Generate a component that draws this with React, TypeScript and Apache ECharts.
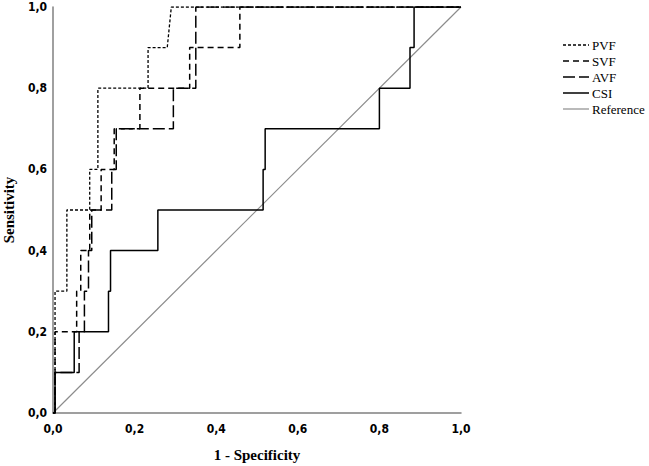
import React, { useEffect, useRef } from "react";
import * as echarts from "echarts";

const tickValues = [0, 0.2, 0.4, 0.6, 0.8, 1.0];
const seriesNames = ["PVF", "SVF", "AVF", "CSI", "Reference"];

const pvf: number[][] = [
  [0, 0], [0.005, 0], [0.005, 0.3], [0.034, 0.3], [0.034, 0.5], [0.09, 0.5], [0.09, 0.6],
  [0.11, 0.6], [0.11, 0.8], [0.233, 0.8], [0.233, 0.9], [0.28, 0.9], [0.29, 1.0], [1, 1],
];
const svf: number[][] = [
  [0, 0], [0.005, 0], [0.005, 0.2], [0.058, 0.2], [0.058, 0.3], [0.068, 0.3], [0.068, 0.4],
  [0.09, 0.4], [0.09, 0.5], [0.118, 0.5], [0.118, 0.6], [0.15, 0.6], [0.15, 0.7],
  [0.213, 0.7], [0.213, 0.8], [0.335, 0.8], [0.335, 0.9], [0.458, 0.9], [0.458, 1.0], [1, 1],
];
const avf: number[][] = [
  [0, 0], [0.005, 0], [0.005, 0.1], [0.064, 0.1], [0.064, 0.2], [0.077, 0.2], [0.077, 0.3],
  [0.087, 0.3], [0.087, 0.4], [0.095, 0.4], [0.095, 0.5], [0.144, 0.5], [0.144, 0.6],
  [0.155, 0.6], [0.155, 0.7], [0.295, 0.7], [0.295, 0.8], [0.35, 0.8], [0.35, 1.0], [1, 1],
];
const csi: number[][] = [
  [0, 0], [0.005, 0], [0.005, 0.1], [0.052, 0.1], [0.052, 0.2], [0.136, 0.2], [0.136, 0.3],
  [0.141, 0.3], [0.141, 0.4], [0.257, 0.4], [0.257, 0.5], [0.515, 0.5], [0.515, 0.6],
  [0.52, 0.6], [0.52, 0.7], [0.8, 0.7], [0.8, 0.8], [0.875, 0.8], [0.875, 0.9],
  [0.885, 0.9], [0.885, 1.0], [1, 1],
];
const reference: number[][] = [[0, 0], [1, 1]];

const fmt = (v: number) => v.toFixed(1).replace(".", ",");

export default function App() {
  const ref = useRef<HTMLDivElement>(null);
  useEffect(() => {
    if (!ref.current) return;
    const chart = echarts.init(ref.current, undefined, { renderer: "svg" });
    const labelFont = {
      fontFamily: "'Liberation Sans Narrow', 'DejaVu Sans Condensed', 'Liberation Sans', sans-serif",
      fontWeight: "bold" as const,
      fontSize: 12,
      color: "#000",
    };
    const styles: { dash: any; width: number; color: string }[] = [
      { dash: [3, 2], width: 1.3, color: "#000" },
      { dash: [6, 4], width: 1.5, color: "#000" },
      { dash: [12, 4], width: 1.5, color: "#000" },
      { dash: "solid", width: 1.5, color: "#000" },
      { dash: "solid", width: 1.2, color: "#8c8c8c" },
    ];
    const datasets = [pvf, svf, avf, csi, reference];
    const series = seriesNames.map((name, i) => ({
      name,
      type: "line",
      data: datasets[i],
      symbol: "none",
      showSymbol: false,
      lineStyle: { color: styles[i].color, width: styles[i].width, type: styles[i].dash },
      itemStyle: { color: styles[i].color },
      z: name === "Reference" ? 1 : 2,
    }));
    const legendGraphics: any[] = [];
    seriesNames.forEach((name, i) => {
      const y = 45 + i * 16;
      legendGraphics.push({
        type: "line",
        shape: { x1: 563, y1: y, x2: 589, y2: y },
        style: {
          stroke: styles[i].color,
          lineWidth: styles[i].width,
          lineDash: Array.isArray(styles[i].dash) ? styles[i].dash : null,
        },
      });
      legendGraphics.push({
        type: "text",
        x: 592,
        y,
        style: {
          text: name,
          fill: "#000",
          font: "13px 'Liberation Serif', serif",
          textVerticalAlign: "middle",
          verticalAlign: "middle",
        },
      });
    });
    chart.setOption({
      animation: false,
      backgroundColor: "#fff",
      grid: { left: 53, right: 188, top: 7, bottom: 53, containLabel: false, outerBoundsMode: "none" },
      graphic: legendGraphics,
      xAxis: {
        type: "value",
        min: 0,
        max: 1,
        interval: 0.2,
        splitLine: { show: false },
        axisTick: { show: false },
        axisLine: { lineStyle: { color: "#808080", width: 1.5 } },
        axisLabel: { ...labelFont, margin: 10, formatter: (v: number) => fmt(v) },
        name: "1 - Specificity",
        nameLocation: "middle",
        nameGap: 34,
        nameTextStyle: { fontFamily: "'Liberation Serif', serif", fontWeight: "bold", fontSize: 15, color: "#000" },
      },
      yAxis: {
        type: "value",
        min: 0,
        max: 1,
        interval: 0.2,
        splitLine: { show: false },
        axisTick: { show: false },
        axisLine: { lineStyle: { color: "#808080", width: 1.5 } },
        axisLabel: { ...labelFont, margin: 6, formatter: (v: number) => fmt(v) },
        name: "Sensitivity",
        nameLocation: "middle",
        nameGap: 33,
        nameTextStyle: { fontFamily: "'Liberation Serif', serif", fontWeight: "bold", fontSize: 15, color: "#000" },
      },
      series,
    });
    return () => chart.dispose();
  }, []);
  return <div ref={ref} style={{ width: 649, height: 466, position: "absolute", left: 0, top: 0 }} />;
}
